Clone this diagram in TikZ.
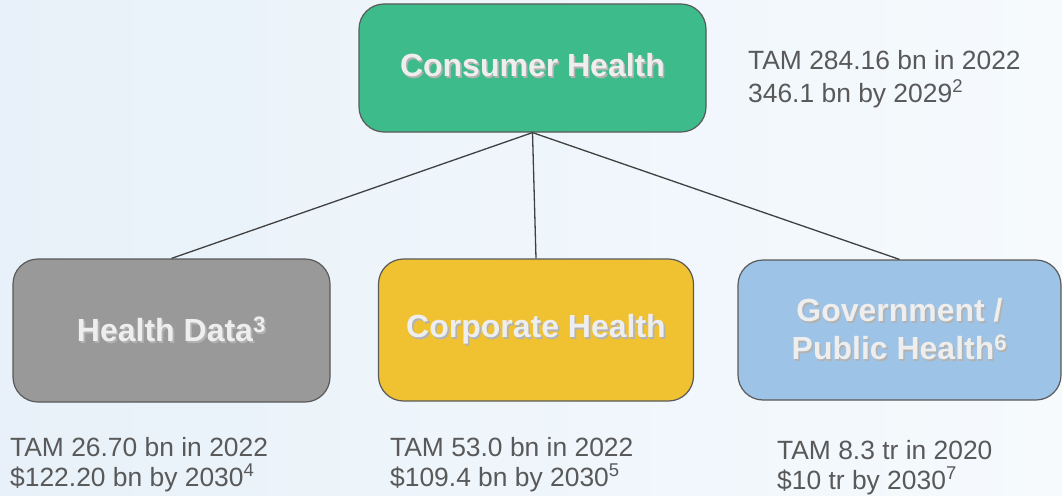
\documentclass[tikz,border=0pt]{standalone}
\usepackage{fontspec}
\setmainfont{Liberation Sans}
\usepackage{xcolor}

\definecolor{bgleft}{HTML}{E8F1F9}
\definecolor{bgright}{HTML}{F6FAFD}
\definecolor{boxline}{HTML}{5A5A5A}
\definecolor{boxtext}{HTML}{EEEEEE}
\definecolor{notegray}{HTML}{595959}
\definecolor{consumergreen}{HTML}{3DBB8A}
\definecolor{datagray}{HTML}{999999}
\definecolor{corpyellow}{HTML}{F0C232}
\definecolor{govblue}{HTML}{9DC3E6}

% white label with a soft drop shadow
\newcommand\shadowtext[1]{\leavevmode\rlap{\kern1.6pt\raisebox{-1.6pt}{\textcolor{black!30}{#1}}}#1}

\begin{document}
\begin{tikzpicture}[x=1pt,y=-1pt,
    box/.style={shape=rectangle, rounded corners=25pt, draw=boxline, line width=1.2pt,
      inner sep=0pt, align=center, text=boxtext,
      font=\fontsize{32}{38}\selectfont\bfseries},
    note/.style={anchor=base west, inner sep=0pt, align=left, text=notegray,
      font=\fontsize{26.4}{30}\selectfont},
    edge/.style={draw=black!75, line width=1.3pt}]
    % background
    \shade[left color=bgleft, right color=bgright] (0,0) rectangle (1062,495);
    \useasboundingbox (0,0) rectangle (1062,495);

    \node[box, fill=consumergreen, minimum width=347pt, minimum height=128pt] (consumer) at (532.5,68) {\raisebox{6pt}{\shadowtext{Consumer Health}}};
    \node[box, fill=datagray, minimum width=317pt, minimum height=143pt] (data) at (171.5,330.5) {\shadowtext{Health Data\textsuperscript{3}}};
    \node[box, fill=corpyellow, minimum width=315pt, minimum height=142pt] (corp) at (536,330) {\shadowtext{Corporate Health}};
    \node[box, fill=govblue, minimum width=323pt, minimum height=140pt] (gov) at (899.5,330) {\shadowtext{Government /}\\\shadowtext{Public Health\textsuperscript{6}}};

    \draw[edge] (consumer.south) -- (data.north);
    \draw[edge] (consumer.south) -- (corp.north);
    \draw[edge] (consumer.south) -- (gov.north);

    % market sizes (anchored at the baseline of the last line)
    \node[note, font=\fontsize{26.4}{32.5}\selectfont] (consumertam) at (748,102) {TAM 284.16 bn in 2022\\346.1 bn by 2029\textsuperscript{2}};
    \node[note] (datatam) at (10,486) {TAM 26.70 bn in 2022\\\$122.20 bn by 2030\textsuperscript{4}};
    \node[note] (corptam) at (390,486) {TAM 53.0 bn in 2022\\\$109.4 bn by 2030\textsuperscript{5}};
    \node[note] (govtam) at (777,489) {TAM 8.3 tr in 2020\\\$10 tr by 2030\textsuperscript{7}};
\end{tikzpicture}
\end{document}
